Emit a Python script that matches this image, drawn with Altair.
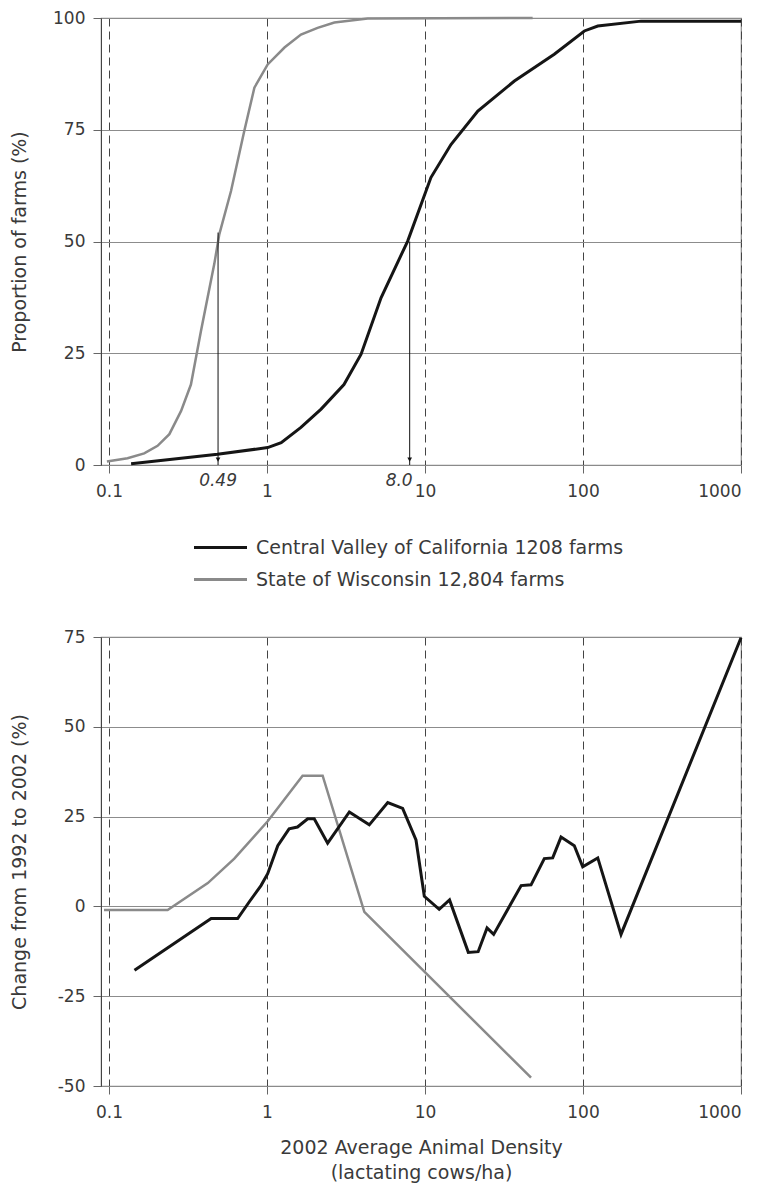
import altair as alt
import pandas as pd

CA = "Central Valley of California 1208 farms"
WI = "State of Wisconsin 12,804 farms"

# Top panel: cumulative proportion of farms (%)
top_ca_x = [0.138, 0.486, 1.01, 1.23, 1.64, 2.20, 3.07, 3.94, 5.27, 7.77, 10.9, 14.6, 21.6, 36.8, 65.8, 102, 124, 233, 1000]
top_ca_y = [0.3, 2.4, 3.9, 5.0, 8.4, 12.5, 18.0, 24.8, 37.4, 50.1, 64.3, 71.7, 79.2, 85.9, 91.9, 97.1, 98.2, 99.3, 99.3]
top_wi_x = [0.097, 0.131, 0.167, 0.203, 0.241, 0.286, 0.330, 0.382, 0.464, 0.499, 0.592, 0.718, 0.832, 1.01, 1.29, 1.64, 2.09, 2.67, 4.34, 48]
top_wi_y = [0.8, 1.5, 2.6, 4.3, 6.9, 12.1, 18.0, 30.0, 45.0, 51.6, 61.3, 74.7, 84.4, 89.6, 93.4, 96.3, 97.8, 99.0, 99.9, 100]

# Bottom panel: change from 1992 to 2002 (%)
bot_ca_x = [0.145, 0.443, 0.652, 0.773, 0.916, 1.01, 1.17, 1.38, 1.56, 1.81, 1.99, 2.42, 3.32, 4.44, 5.81, 7.22, 8.77, 9.9, 12.3, 14.3, 18.8, 21.7, 24.7, 27.2, 40.6, 46.9, 56.9, 64.3, 72.6, 88.1, 99.6, 124, 174, 1000]
bot_ca_y = [-17.8, -3.4, -3.4, 1.3, 5.8, 9.1, 16.9, 21.6, 22.1, 24.4, 24.4, 17.6, 26.3, 22.7, 28.9, 27.3, 18.5, 2.8, -0.8, 1.8, -12.8, -12.6, -6.0, -7.8, 5.8, 6.0, 13.3, 13.5, 19.3, 16.9, 11.0, 13.5, -7.8, 74.8]
bot_wi_x = [0.093, 0.235, 0.422, 0.621, 1.01, 1.68, 2.25, 4.13, 46.9]
bot_wi_y = [-1.0, -1.0, 6.5, 13.3, 23.7, 36.4, 36.4, -1.5, -47.7]

# Median annotations
ann_x = [0.49, 8.0]
ann_top = [52, 50]
ann_label = ["0.49", "8.0"]

x_ticks = [0.1, 1, 10, 100, 1000]
top_y_ticks = [0, 25, 50, 75, 100]
bot_y_ticks = [-50, -25, 0, 25, 50, 75]


def frame(xs, ys, name):
    return pd.DataFrame({"x": xs, "y": ys, "series": name})


top_df = pd.concat([frame(top_ca_x, top_ca_y, CA), frame(top_wi_x, top_wi_y, WI)])
bot_df = pd.concat([frame(bot_ca_x, bot_ca_y, CA), frame(bot_wi_x, bot_wi_y, WI)])
ann_df = pd.DataFrame({"x": ann_x, "ytop": ann_top, "ybot": [0] * len(ann_x),
                       "tip": [1.2] * len(ann_x), "label": ann_label})

FONT = "DejaVu Sans"
TXT = "#3a3a3a"
W = 640

x_scale = alt.Scale(type="log", domain=[0.089, 1000], nice=False)
color = alt.Color(
    "series:N",
    scale=alt.Scale(domain=[CA, WI], range=["#151515", "#8a8a8a"]),
    legend=alt.Legend(title=None),
)


def x_axis(title=None, pad=10):
    kw = dict(values=x_ticks, format="~g", grid=True, gridDash=[8, 5], gridColor="#444444",
              gridWidth=1, tickSize=8, tickColor="#666666", domainColor="#8a8a8a",
              labelPadding=pad, labelFontSize=17, labelColor=TXT, labelFont=FONT)
    if title is not None:
        kw.update(title=title, titleFontSize=19, titleFont=FONT, titleFontWeight="normal",
                  titleColor=TXT, titlePadding=18, titleLineHeight=25)
    else:
        kw.update(title=None)
    return alt.Axis(**kw)


def y_axis(values, title):
    return alt.Axis(values=values, labelExpr="'' + datum.value", title=title, grid=True,
                    gridColor="#8c8c8c", gridWidth=1.2,
                    tickSize=8, tickColor="#666666", domainColor="#444444",
                    labelPadding=8, labelFontSize=17, labelColor=TXT, labelFont=FONT,
                    titleX=-72, titleFontSize=19, titleFont=FONT, titleFontWeight="normal",
                    titleColor=TXT)


def lines(df, y_scale, y_ax, x_ax):
    base = alt.Chart(df)
    ca = base.transform_filter(alt.datum.series == CA).mark_line(strokeWidth=3).encode(
        x=alt.X("x:Q", scale=x_scale, axis=x_ax),
        y=alt.Y("y:Q", scale=y_scale, axis=y_ax),
        color=color,
    )
    wi = base.transform_filter(alt.datum.series == WI).mark_line(strokeWidth=2.5).encode(
        x=alt.X("x:Q", scale=x_scale),
        y=alt.Y("y:Q", scale=y_scale),
        color=color,
    )
    return wi, ca


top_y_scale = alt.Scale(domain=[0, 100], nice=False)
wi_top, ca_top = lines(top_df, top_y_scale, y_axis(top_y_ticks, "Proportion of farms (%)"), x_axis())

ann = alt.Chart(ann_df)
arrow_lines = ann.mark_rule(color="#111111", strokeWidth=1).encode(
    x=alt.X("x:Q", scale=x_scale), y=alt.Y("ytop:Q", scale=top_y_scale), y2="ybot:Q")
arrow_heads = ann.mark_point(shape="triangle-down", filled=True, size=22, color="#111111", opacity=1).encode(
    x=alt.X("x:Q", scale=x_scale), y=alt.Y("tip:Q", scale=top_y_scale))
lab_049 = ann.transform_filter(alt.datum.label == "0.49").mark_text(
    fontStyle="italic", fontSize=17, font=FONT, color=TXT, baseline="top", align="center", dy=8).encode(
    x=alt.X("x:Q", scale=x_scale), y=alt.Y("ybot:Q", scale=top_y_scale), text="label:N")
lab_80 = ann.transform_filter(alt.datum.label == "8.0").mark_text(
    fontStyle="italic", fontSize=17, font=FONT, color=TXT, baseline="top", align="right", dx=3, dy=8).encode(
    x=alt.X("x:Q", scale=x_scale), y=alt.Y("ybot:Q", scale=top_y_scale), text="label:N")

top = alt.layer(wi_top, ca_top, arrow_lines, arrow_heads, lab_049, lab_80).properties(width=W, height=447)

bot_y_scale = alt.Scale(domain=[-50, 75], nice=False)
wi_bot, ca_bot = lines(bot_df, bot_y_scale, y_axis(bot_y_ticks, "Change from 1992 to 2002 (%)"),
                       x_axis(["2002 Average Animal Density", "(lactating cows/ha)"]))
bottom = alt.layer(wi_bot, ca_bot).properties(width=W, height=449)

chart = alt.vconcat(top, bottom, spacing=127).properties(
    padding={"left": 1, "top": 0, "right": 0, "bottom": 4}
).configure_view(stroke="#8c8c8c", strokeWidth=1.2).configure_legend(
    orient="none", legendX=108, legendY=518, padding=0,
    labelFont=FONT, labelFontSize=19, labelColor=TXT, labelLimit=0,
    symbolType="M-2.65,0H2.65", symbolSize=400, symbolStrokeWidth=3,
    labelOffset=24, rowPadding=10,
)

chart.save("out.html", embed_options={"renderer": "svg", "actions": False})
